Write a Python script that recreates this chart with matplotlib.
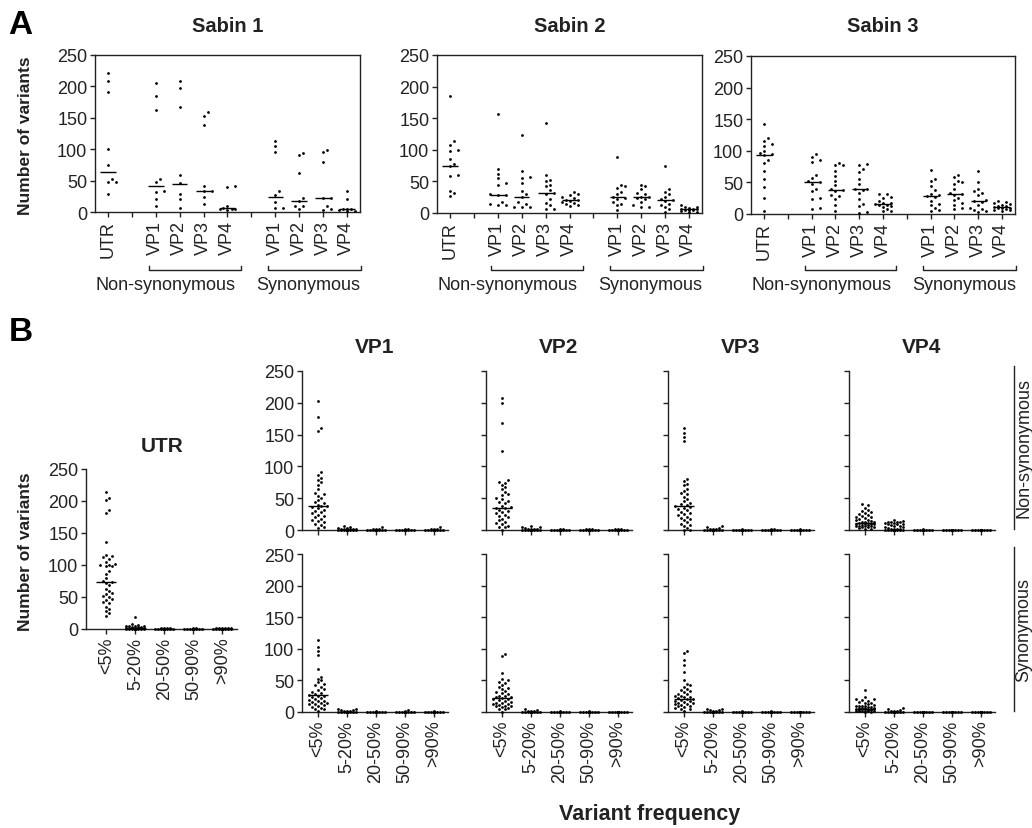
import numpy as np
import matplotlib
matplotlib.use("Agg")
import matplotlib.pyplot as plt
from matplotlib.transforms import blended_transform_factory

plt.rcParams['font.family'] = ['Liberation Sans', 'DejaVu Sans']

# ---------------- data: panel A (number of variants per sample) ----------------
a_labels = ['UTR', '', 'VP1', 'VP2', 'VP3', 'VP4', '', 'VP1', 'VP2', 'VP3', 'VP4']
a_pos = [0, 2, 3, 4, 5, 7, 8, 9, 10]   # columns that hold data
sabin_titles = ['Sabin 1', 'Sabin 2', 'Sabin 3']

s1_utr = [222, 209, 191, 100, 75, 53, 48, 47, 29]
s1_ns_vp1 = [205, 185, 162, 53, 47, 33, 32, 21, 10]
s1_ns_vp2 = [208, 197, 167, 59, 46, 29, 21, 6]
s1_ns_vp3 = [159, 153, 138, 42, 34, 33, 24, 13]
s1_ns_vp4 = [41, 40, 10, 6, 5, 4, 4, 3]
s1_syn_vp1 = [113, 105, 96, 33, 27, 16, 6, 6]
s1_syn_vp2 = [94, 90, 62, 22, 18, 10, 10, 4]
s1_syn_vp3 = [99, 95, 80, 22, 22, 9, 4, 3]
s1_syn_vp4 = [34, 21, 5, 5, 4, 3, 2, 2]
s1_med = [64, 41, 44, 34, 6, 24, 18, 22, 4]

s2_utr = [185, 114, 108, 100, 98, 85, 78, 74, 60, 58, 35, 31, 27]
s2_ns_vp1 = [157, 70, 62, 55, 47, 45, 30, 29, 28, 18, 14, 12, 12]
s2_ns_vp2 = [124, 66, 57, 56, 48, 35, 30, 26, 17, 15, 10, 10, 9]
s2_ns_vp3 = [143, 60, 53, 50, 45, 42, 36, 32, 30, 22, 16, 12, 7, 6]
s2_ns_vp4 = [33, 30, 28, 25, 23, 21, 20, 19, 18, 16, 14, 12, 11]
s2_syn_vp1 = [89, 45, 42, 40, 33, 30, 26, 24, 22, 17, 15, 12, 4]
s2_syn_vp2 = [45, 42, 38, 32, 30, 26, 25, 24, 22, 17, 12, 10, 10]
s2_syn_vp3 = [75, 38, 33, 30, 26, 22, 20, 19, 15, 13, 10, 7, 2]
s2_syn_vp4 = [12, 10, 9, 8, 7, 6, 6, 5, 5, 4, 3, 2, 2]
s2_med = [75, 29, 26, 32, 20, 25, 25, 20, 6]

s3_utr = [142, 120, 116, 110, 108, 100, 97, 95, 93, 86, 80, 68, 55, 42, 26, 5]
s3_ns_vp1 = [95, 90, 85, 83, 62, 57, 52, 50, 48, 40, 36, 25, 24, 9, 8]
s3_ns_vp2 = [80, 77, 77, 68, 60, 53, 46, 40, 38, 36, 30, 28, 24, 15, 5]
s3_ns_vp3 = [79, 78, 71, 66, 55, 47, 40, 39, 38, 33, 24, 16, 12, 3, 2]
s3_ns_vp4 = [32, 31, 27, 25, 20, 18, 17, 16, 15, 14, 12, 11, 8, 5, 4]
s3_syn_vp1 = [70, 55, 52, 45, 38, 32, 30, 29, 27, 21, 16, 14, 9, 6, 5]
s3_syn_vp2 = [61, 58, 53, 50, 48, 40, 33, 31, 30, 25, 22, 17, 15, 9, 8]
s3_syn_vp3 = [68, 50, 40, 36, 33, 30, 22, 20, 19, 15, 10, 8, 6, 5, 3]
s3_syn_vp4 = [20, 19, 18, 16, 15, 13, 12, 11, 10, 10, 9, 8, 7, 6, 5]
s3_med = [94, 50, 38, 39, 16, 29, 31, 20, 11]

# ---------------- data: panel B (by variant frequency) ----------------
b_freq = ['<5%', '5-20%', '20-50%', '50-90%', '>90%']
n_samples = 38   # samples per column; values not listed are 0

b_utr = [
    [214, 205, 201, 186, 182, 136, 116, 114, 112, 110, 105, 102, 100, 100, 99, 98, 90, 86, 80,
     75, 73, 72, 68, 63, 60, 57, 55, 52, 50, 47, 45, 42, 40, 35, 32, 28, 25, 21],
    [18, 8, 6, 5, 5, 4, 4, 3, 3, 3, 2, 2, 2, 2, 1, 1, 1, 1],
    [2, 1, 1, 1],
    [1, 1],
    [2, 2, 1, 1, 1, 1],
]
b_utr_med = [73, 2, 0, 0, 0]

b_vp1_ns = [
    [203, 178, 161, 156, 91, 86, 81, 78, 75, 70, 64, 58, 56, 54, 50, 47, 44, 42, 40, 38, 37, 36,
     34, 32, 30, 28, 26, 24, 22, 20, 18, 16, 14, 12, 10, 8, 5, 3],
    [6, 4, 3, 3, 2, 2, 2, 1, 1, 1],
    [5, 2, 1, 1],
    [2, 1],
    [4, 2, 1, 1],
]
b_vp2_ns = [
    [208, 200, 169, 125, 78, 76, 74, 70, 67, 64, 60, 57, 55, 50, 48, 46, 44, 42, 38, 36, 35, 34,
     32, 30, 28, 26, 24, 22, 20, 18, 15, 13, 11, 9, 7, 5, 4],
    [7, 5, 4, 3, 2, 2, 1, 1],
    [2, 1],
    [2, 1, 1],
    [2, 1, 1],
]
b_vp3_ns = [
    [161, 153, 146, 140, 80, 77, 73, 70, 65, 62, 58, 56, 52, 49, 46, 43, 41, 39, 37, 36, 35, 33,
     31, 29, 27, 25, 23, 21, 19, 17, 15, 12, 10, 8, 6, 3],
    [6, 4, 3, 2, 2, 1],
    [1],
    [2, 1],
    [1],
]
b_vp4_ns = [
    [41, 39, 35, 32, 30, 28, 27, 25, 24, 22, 21, 20, 19, 17, 16, 15, 14, 13, 12, 12, 11, 11, 10,
     10, 9, 9, 8, 8, 7, 7, 6, 6, 5, 5, 4, 3, 2, 1],
    [15, 14, 13, 13, 12, 12, 11, 11, 10, 10, 9, 8, 7, 6, 5, 4, 3, 2, 2, 1, 1],
    [1],
    [],
    [],
]
b_vp1_syn = [
    [114, 103, 96, 90, 68, 56, 53, 50, 47, 44, 42, 40, 37, 35, 32, 30, 28, 27, 26, 25, 24, 22, 20,
     19, 18, 17, 16, 15, 14, 13, 12, 11, 10, 8, 7, 5, 4, 2],
    [5, 4, 3, 3, 2, 2, 1],
    [1],
    [3, 1],
    [1],
]
b_vp2_syn = [
    [92, 88, 61, 52, 50, 48, 46, 43, 40, 38, 36, 33, 31, 30, 28, 26, 25, 24, 23, 22, 21, 20, 19,
     18, 16, 15, 14, 13, 12, 11, 10, 10, 9, 8, 7, 5, 4],
    [4, 3, 2, 2, 1],
    [1],
    [1],
    [],
]
b_vp3_syn = [
    [96, 93, 82, 74, 63, 50, 45, 42, 40, 37, 35, 33, 31, 29, 28, 26, 25, 24, 23, 22, 21, 20, 19,
     18, 17, 16, 15, 14, 13, 12, 11, 10, 9, 8, 6, 5, 4, 2],
    [5, 4, 3, 3, 2, 1],
    [1],
    [1],
    [],
]
b_vp4_syn = [
    [35, 23, 21, 20, 19, 18, 16, 15, 14, 12, 11, 10, 10, 9, 9, 8, 8, 7, 7, 6, 6, 5, 5, 5, 4, 4, 4,
     3, 3, 3, 2, 2, 2, 1, 1, 1],
    [6, 4, 3, 2, 2, 1],
    [],
    [],
    [],
]
b_ns_med = [37, 35, 37, 11]
b_syn_med = [27, 22, 21, 5]
b_regions = ['VP1', 'VP2', 'VP3', 'VP4']

# ---------------- layout (pixels of the 1032x829 image) ----------------
W, H = 1032, 829
INK = '#222222'


def box(l, t, r, b):
    return [l / W, 1 - b / H, (r - l) / W, (b - t) / H]


def fx(x):
    return x / W


def fy(y):
    return 1 - y / H


def pad0(vals):
    return list(vals) + [0] * (n_samples - len(vals))


def swarm(ax, xc, vals, step, max_off, min_dist):
    # spread points sideways (in pixels) when they would overlap
    tr = ax.transData
    ys = np.sort(np.asarray(vals, float))
    pts = tr.transform(np.column_stack([np.full(len(ys), xc), ys]))
    xc_px = pts[0, 0] if len(pts) else 0
    cands = [0.0]
    for k in range(1, int(max_off // step) + 1):
        cands += [k * step, -k * step]
    placed = []
    for y in pts[:, 1]:
        best, best_d = 0.0, -1
        for c in cands:
            d = min([np.hypot(c - px, y - py) for px, py in placed] or [np.inf])
            if d >= min_dist:
                best = c
                break
            if d > best_d:
                best_d, best = d, c
        placed.append((best, y))
    offs = np.array([p[0] for p in placed])
    xs = tr.inverted().transform(np.column_stack([xc_px + offs, pts[:, 1]]))[:, 0]
    return xs, ys


def draw_column(ax, xc, vals, med, hw, step, max_off, min_dist):
    if len(vals):
        xs, ys = swarm(ax, xc, vals, step, max_off, min_dist)
        ax.scatter(xs, ys, s=4, color='black', linewidths=0, zorder=3, clip_on=False)
    ax.hlines(med, xc - hw, xc + hw, color='black', lw=1, zorder=3, clip_on=False)


fig = plt.figure(figsize=(W / 100, H / 100), dpi=100)

# ---------------- panel A ----------------
sabin_points = [
    [s1_utr, s1_ns_vp1, s1_ns_vp2, s1_ns_vp3, s1_ns_vp4, s1_syn_vp1, s1_syn_vp2, s1_syn_vp3, s1_syn_vp4],
    [s2_utr, s2_ns_vp1, s2_ns_vp2, s2_ns_vp3, s2_ns_vp4, s2_syn_vp1, s2_syn_vp2, s2_syn_vp3, s2_syn_vp4],
    [s3_utr, s3_ns_vp1, s3_ns_vp2, s3_ns_vp3, s3_ns_vp4, s3_syn_vp1, s3_syn_vp2, s3_syn_vp3, s3_syn_vp4],
]
sabin_meds = [s1_med, s2_med, s3_med]
a_boxes = [(95, 56, 360, 213), (437, 56, 702, 214), (751, 57, 1015, 215)]

for i, (pts, meds, bx) in enumerate(zip(sabin_points, sabin_meds, a_boxes)):
    ax = fig.add_axes(box(*bx))
    ax.set_xlim(-0.55, 10.55)
    ax.set_ylim(0, 250)
    ax.set_yticks(range(0, 251, 50))
    ax.set_xticks(range(len(a_labels)))
    ax.set_xticklabels(a_labels, rotation=90)
    for sp in ax.spines.values():
        sp.set_linewidth(1.0)
        sp.set_color(INK)
    ax.tick_params(direction='out', length=3.5, width=1, labelsize=13, pad=2, colors=INK)
    for xc, vals, med in zip(a_pos, pts, meds):
        draw_column(ax, xc, vals, med, 0.32, 4, 10, 4.2)
    # title
    cx = (bx[0] + bx[2]) / 2
    fig.text(fx(cx), fy(26), sabin_titles[i], fontsize=14.5, fontweight='bold',
             ha='center', va='center', color=INK)
    # brackets under the tick labels
    bt = blended_transform_factory(ax.transData, fig.transFigure)
    for x0, x1, xt, name in [(1.7, 5.55, 2.4, 'Non-synonymous'), (6.7, 10.6, 8.4, 'Synonymous')]:
        ax.plot([x0, x0, x1, x1], [fy(267), fy(271), fy(271), fy(267)], color=INK, lw=1,
                transform=bt, clip_on=False)
        ax.text(xt, fy(285), name, transform=bt, ha='center', va='center', fontsize=13, color=INK)

fig.text(fx(26), fy(136), 'Number of variants', rotation=90, fontsize=12.5, fontweight='bold',
         ha='center', va='center', color=INK)
fig.text(fx(8), fy(26), 'A', fontsize=24, fontweight='bold', ha='left', va='center')
fig.text(fx(9), fy(333), 'B', fontsize=24, fontweight='bold', ha='left', va='center')


# ---------------- panel B ----------------
def style_b(ax, xlim, show_y=True, show_x=True):
    ax.set_xlim(*xlim)
    ax.set_ylim(0, 250)
    ax.set_yticks(range(0, 251, 50))
    ax.set_xticks(range(len(b_freq)))
    ax.set_xticklabels(b_freq, rotation=90)
    ax.spines['top'].set_visible(False)
    ax.spines['right'].set_visible(False)
    for sp in ('left', 'bottom'):
        ax.spines[sp].set_linewidth(1.0)
        ax.spines[sp].set_color(INK)
    ax.tick_params(direction='out', length=3.5, width=1, labelsize=13, pad=2, colors=INK,
                   labelleft=show_y, labelbottom=show_x)


ax = fig.add_axes(box(86, 470, 237, 630))
style_b(ax, (-0.7, 4.5))
for j, vals in enumerate(b_utr):
    draw_column(ax, j, pad0(vals), b_utr_med[j], 0.35, 3, 10, 3.4)
fig.text(fx(162), fy(447), 'UTR', fontsize=15, fontweight='bold', ha='center', va='center', color=INK)
fig.text(fx(26), fy(552), 'Number of variants', rotation=90, fontsize=12.5, fontweight='bold',
         ha='center', va='center', color=INK)

col_left = [302, 486, 668, 849]
rows = [(372, 531), (555, 713)]
ns_sets = [b_vp1_ns, b_vp2_ns, b_vp3_ns, b_vp4_ns]
syn_sets = [b_vp1_syn, b_vp2_syn, b_vp3_syn, b_vp4_syn]

for c, left in enumerate(col_left):
    for r, (sets, meds) in enumerate([(ns_sets, b_ns_med), (syn_sets, b_syn_med)]):
        top, bot = rows[r]
        ax = fig.add_axes(box(left, top, left + 146, bot))
        style_b(ax, (-0.55, 4.48), show_y=(c == 0), show_x=(r == 1))
        for j, vals in enumerate(sets[c]):
            med = meds[c] if j == 0 else 0
            draw_column(ax, j, pad0(vals), med, 0.35, 3, 10, 3.4)
    fig.text(fx(left + 73), fy(348), b_regions[c], fontsize=15, fontweight='bold',
             ha='center', va='center', color=INK)

# row labels on the right
for (y0, y1), name in [((367, 530), 'Non-synonymous'), ((548, 712), 'Synonymous')]:
    fig.add_artist(plt.Line2D([fx(1014), fx(1014)], [fy(y0), fy(y1)], color=INK, lw=1))
    fig.text(fx(1024), fy((y0 + y1) / 2), name, rotation=90, fontsize=13,
             ha='center', va='center', color=INK)

fig.text(fx(650), fy(815), 'Variant frequency', fontsize=15.5, fontweight='bold',
         ha='center', va='center', color=INK)

fig.savefig('out.png', dpi=100)
